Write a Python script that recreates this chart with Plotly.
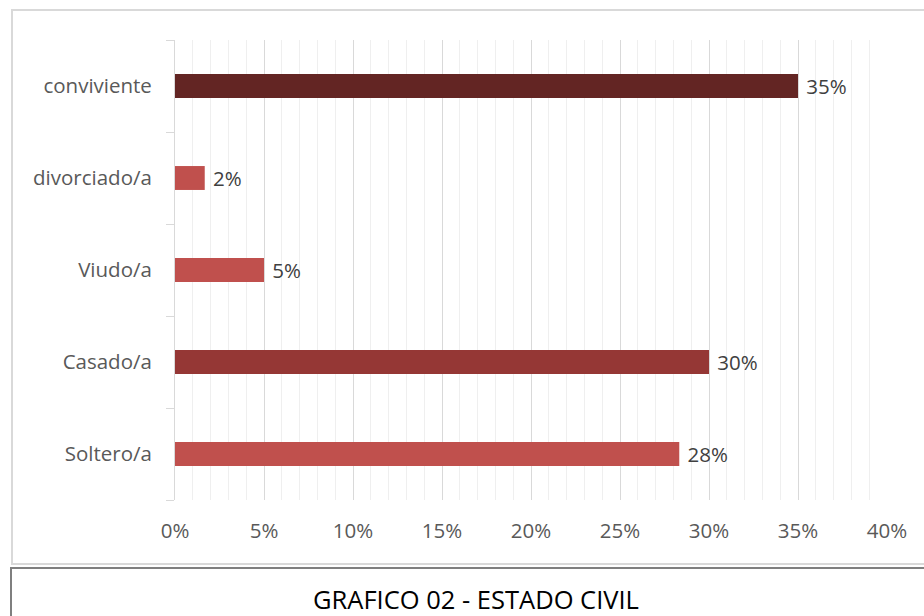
import plotly.graph_objects as go

# Estado civil de los encuestados (porcentaje del total)
categorias = ["Soltero/a", "Casado/a", "Viudo/a", "divorciado/a", "conviviente"]
porcentajes = [28.33, 30.0, 5.0, 1.67, 35.0]
colores = ["#C0504D", "#953735", "#C0504D", "#C0504D", "#632523"]
ticks_x = [0, 5, 10, 15, 20, 25, 30, 35, 40]
etiquetas_x = ["0%", "5%", "10%", "15%", "20%", "25%", "30%", "35%", "40%"]
titulo = "GRAFICO 02 - ESTADO CIVIL"

W, H = 924, 616
L, R, T, B = 175, 37, 40, 116
PW, PH = W - L - R, H - T - B
FUENTE = "Open Sans"
TAM = 20.5


def px(x, y):
    """Pixel position -> paper coordinates."""
    return (x - L) / PW, (H - B - y) / PH


fig = go.Figure(
    go.Bar(
        y=categorias,
        x=porcentajes,
        orientation="h",
        marker=dict(color=colores, line=dict(width=0)),
        texttemplate=" %{x:.0f}%",
        textposition="outside",
        constraintext="none",
        textfont=dict(family=FUENTE, size=TAM, color="#404040"),
        cliponaxis=False,
        hoverinfo="skip",
    )
)

# Outer chart frame (light) and title box (dark)
x0, y0 = px(12, 10)
x1, y1 = px(960, 564)
fig.add_shape(type="rect", xref="paper", yref="paper", x0=x0, y0=y1, x1=x1, y1=y0,
              line=dict(color="#D9D9D9", width=2), layer="below")
x0, y0 = px(11, 568)
x1, y1 = px(960, 660)
fig.add_shape(type="rect", xref="paper", yref="paper", x0=x0, y0=y1, x1=x1, y1=y0,
              line=dict(color="#7F7F7F", width=2), layer="below")

tx, ty = px(476, 599)
fig.add_annotation(text=titulo, xref="paper", yref="paper", x=tx, y=ty,
                   showarrow=False, xanchor="center", yanchor="middle",
                   font=dict(family=FUENTE, size=25.5, color="#000000"))

fig.update_layout(
    width=W, height=H,
    margin=dict(l=L, r=R, t=T, b=B),
    paper_bgcolor="white", plot_bgcolor="white",
    bargap=0.74,
    showlegend=False,
    font=dict(family=FUENTE, size=TAM, color="#595959"),
)
fig.update_xaxes(
    range=[0, 40],
    tickmode="array", tickvals=ticks_x, ticktext=etiquetas_x,
    showgrid=True, gridcolor="#D9D9D9", gridwidth=1,
    minor=dict(dtick=1, showgrid=True, gridcolor="#EFEFEF", gridwidth=1),
    zeroline=False, showline=False, ticks="",
    tickfont=dict(family=FUENTE, size=TAM, color="#595959"),
    ticklabelstandoff=16,
)
fig.update_yaxes(
    categoryorder="array", categoryarray=categorias,
    showline=True, linecolor="#D9D9D9", linewidth=1,
    ticks="outside", tickson="boundaries", ticklen=8, tickcolor="#D9D9D9",
    tickfont=dict(family=FUENTE, size=TAM, color="#595959"),
    ticklabelstandoff=18,
    showgrid=False,
)

fig.write_html("out.html")
